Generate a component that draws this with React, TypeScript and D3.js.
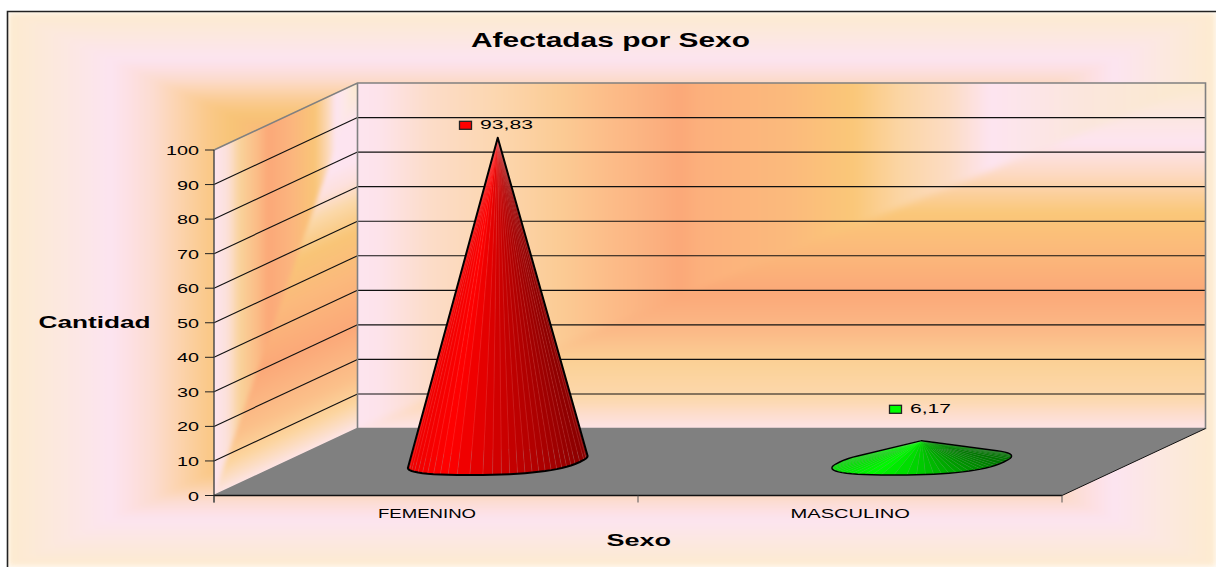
import React from "react";
import * as d3 from "d3";

const categories = ["FEMENINO", "MASCULINO"];
const seriesValues = [93.83, 6.17];
const valueLabels = ["93,83", "6,17"];
const yTicks = [0, 10, 20, 30, 40, 50, 60, 70, 80, 90, 100];
const shadeRed = ["#ee0000", "#ff0000", "#cc0000", "#a80000", "#880000"];
const shadeGreen = ["#00e000", "#00fa00", "#00c400", "#009400", "#007000"];
const keyColors = ["#ff0000", "#00ff00"];

type Stop = [number, string];
const outerStops: Stop[] = [
  [0, "#fdebcf"], [0.09, "#fce8e0"], [0.17, "#fce4f0"], [0.2, "#fde0e4"], [0.24, "#fcdcd0"],
  [0.28, "#fcd4b0"], [0.33, "#fac98a"], [0.37, "#f8c477"], [0.5, "#fbaa7a"], [1, "#fbaa7a"],
];
const backXStops: Stop[] = [
  [358, "#fde4ef"], [380, "#fde3ea"], [430, "#fcdcc8"], [500, "#fcd6ae"], [560, "#fbcb94"], [610, "#fcbc88"],
  [655, "#fbb07f"], [680, "#fba878"], [700, "#fcb07c"], [790, "#fbba7c"], [853, "#fac778"], [900, "#fbd5a4"],
  [950, "#fcdcc4"], [990, "#fde4f0"], [1080, "#fbe6dd"], [1205, "#fbeacd"],
];
const backYStops: Stop[] = [
  [83, "#fbeacd"], [143, "#fde4f0"], [175, "#fdd9c0"], [195, "#fbcf9a"], [213, "#fac778"], [250, "#fbb97a"],
  [293, "#fba878"], [330, "#fbb886"], [363, "#fbd196"], [400, "#fcd8ae"], [412, "#fddcc8"], [428, "#fde3e6"],
];
const sideXStops: Stop[] = [
  [214, "#fde4ef"], [228, "#fce0d8"], [240, "#f9d29a"], [258, "#fbbb85"], [268, "#fba878"], [290, "#fbb47e"],
  [315, "#f9c577"], [330, "#fcdcc4"], [335, "#fde4f0"], [345, "#fde8e8"], [357, "#fbeacd"],
];
const sideVStops: Stop[] = [
  [0, "#fde4e6"], [0.04, "#fcdcc0"], [0.08, "#fcd49c"], [0.15, "#fbc08a"], [0.3, "#fba878"], [0.45, "#fbb97c"],
  [0.57, "#f9c577"], [0.66, "#fbd8a8"], [0.72, "#fde0dc"], [0.78, "#fde4f0"], [0.89, "#fde4f0"], [1, "#fbeacd"],
];

const W = 1216, H = 567;
const frame = { l: 8, t: 12, r: 1216, b: 567, cx: 612, cy: 290 };
const plot = { x0: 214, x1: 1062, y0: 495.5, y1: 150, dx: 143.5, dy: -67 };
const coneA = 82, coneB = 13, coneP = 0.8, facets = 64;
const font = "'Liberation Sans', Arial, sans-serif";

const y = d3.scaleLinear().domain([0, 100]).range([plot.y0, plot.y1]);
const x = d3.scaleBand().domain(categories).range([plot.x0, plot.x1]);
const bx = plot.x0 + plot.dx, bx1 = plot.x1 + plot.dx;
const by = (v: number) => y(v) + plot.dy;

const Grad = ({ id, stops, x1, y1, x2, y2, abs }: any) => {
  const len = abs ? d3.scaleLinear().domain([stops[0][0], stops[stops.length - 1][0]]).range([0, 1]) : (d: number) => d;
  return (
    <linearGradient id={id} gradientUnits="userSpaceOnUse" x1={x1} y1={y1} x2={x2} y2={y2}>
      {stops.map(([o, c]: Stop, i: number) => <stop key={i} offset={len(o)} stopColor={c} />)}
    </linearGradient>
  );
};

const pts = (a: number[][]) => a.map((p) => p.join(",")).join(" ");

const Txt = ({ x: tx, y: ty, len, size, bold, children }: any) => (
  <text x={tx} y={ty} fontFamily={font} fontSize={size} fontWeight={bold ? 700 : 400} fill="#000"
    textLength={len} lengthAdjust="spacingAndGlyphs">{children}</text>
);

const spow = (v: number) => Math.sign(v) * Math.pow(Math.abs(v), coneP);

function Cone({ i }: { i: number }) {
  const cx = (x(categories[i]) as number) + x.bandwidth() / 2 + plot.dx / 2;
  const cy = plot.y0 + plot.dy / 2;
  const k = plot.dx / -plot.dy;
  const apex: [number, number] = [cx, cy - (y(0) - y(seriesValues[i]))];
  const range = i === 0 ? shadeRed : shadeGreen;
  const seam = i === 0 ? "rgba(255,170,170,0.22)" : "rgba(170,255,170,0.12)";
  const shade = d3.scaleLinear<string>().domain([-90, -50, 5, 50, 90]).range(range);
  const base = d3.range(facets + 1).map((j) => {
    const t = (j / facets) * 2 * Math.PI;
    const c = spow(Math.cos(t)), s = spow(Math.sin(t));
    return [cx + coneA * c + k * coneB * s, cy - coneB * s, s];
  });
  const faces = d3.range(facets).map((j) => ({ a: base[j], b: base[j + 1], d: base[j][2] + base[j + 1][2] }));
  faces.sort((p, q) => q.d - p.d);
  const hull = d3.polygonHull([...base.map((p) => [p[0], p[1]] as [number, number]), apex]) as [number, number][];
  return (
    <g>
      {faces.map((f, j) => (
        <polygon key={j} points={pts([apex, [f.a[0], f.a[1]], [f.b[0], f.b[1]]])}
          fill={shade((f.a[0] + f.b[0]) / 2 - cx)} stroke={seam} strokeWidth={0.5} />
      ))}
      <polygon points={pts(hull)} fill="none" stroke="#000" strokeWidth={i === 0 ? 2 : 1.4} strokeLinejoin="round" />
    </g>
  );
}

const labelPos = [{ key: 459.5, text: 480, base: 129.3, len: 53 }, { key: 889.5, text: 910, base: 413.3, len: 41 }];

export default function App() {
  const f = frame;
  const nl = Math.hypot(plot.dx, plot.dy);
  const nx = -plot.dy / nl, ny = plot.dx / nl;
  const span = (y(0) - y(100)) * ny;
  const p0 = [bx, by(0)];
  const p1 = [bx - nx * span, by(0) - ny * span];
  const sideWall = [[plot.x0, y(100)], [bx, by(100)], [bx, by(0)], [plot.x0, y(0)]];
  const backWall = [[bx, by(100)], [bx1, by(100)], [bx1, by(0)], [bx, by(0)]];
  return (
    <svg width={W} height={H} viewBox={`0 0 ${W} ${H}`} style={{ position: "absolute", left: 0, top: 0, display: "block" }}>
      <defs>
        <Grad id="oL" stops={outerStops} x1={f.l} y1={0} x2={f.cx} y2={0} />
        <Grad id="oR" stops={outerStops} x1={f.r} y1={0} x2={f.cx} y2={0} />
        <Grad id="oT" stops={outerStops} x1={0} y1={f.t} x2={0} y2={f.cy} />
        <Grad id="oB" stops={outerStops} x1={0} y1={f.b} x2={0} y2={f.cy} />
        <Grad id="bX" abs stops={backXStops} x1={358} y1={0} x2={1205} y2={0} />
        <Grad id="bY" abs stops={backYStops} x1={0} y1={83} x2={0} y2={428} />
        <Grad id="sX" abs stops={sideXStops} x1={214} y1={0} x2={357} y2={0} />
        <Grad id="sV" stops={sideVStops} x1={p0[0]} y1={p0[1]} x2={p1[0]} y2={p1[1]} />
        <clipPath id="cS"><polygon points={pts(sideWall)} /></clipPath>
        <clipPath id="cB"><polygon points={pts(backWall)} /></clipPath>
        <filter id="soft" x="-5%" y="-5%" width="110%" height="110%" colorInterpolationFilters="sRGB">
          <feGaussianBlur stdDeviation="3.5" />
        </filter>
        <filter id="softS" x="-5%" y="-5%" width="110%" height="110%" colorInterpolationFilters="sRGB">
          <feGaussianBlur stdDeviation="2" />
        </filter>
        <filter id="softO" x="-2%" y="-2%" width="104%" height="104%" colorInterpolationFilters="sRGB">
          <feGaussianBlur stdDeviation="3" />
        </filter>
      </defs>
      <rect width={W} height={H} fill="#fff" />
      {/* chart area: nested rectangular gradient */}
      <clipPath id="cO"><rect x={f.l} y={f.t} width={f.r - f.l} height={f.b - f.t} /></clipPath>
      <g clipPath="url(#cO)">
        <g filter="url(#softO)" shapeRendering="crispEdges">
          <rect x={f.l} y={f.t} width={f.r - f.l} height={f.b - f.t} fill="url(#oT)" />
          <polygon points={pts([[f.l, f.b], [f.r, f.b], [f.cx, f.cy]])} fill="url(#oB)" />
          <polygon points={pts([[f.l, f.t], [f.l, f.b], [f.cx, f.cy]])} fill="url(#oL)" />
          <polygon points={pts([[f.r, f.t], [f.r, f.b], [f.cx, f.cy]])} fill="url(#oR)" />
        </g>
      </g>
      <path d={`M${f.l - 0.5},${H} V${f.t - 0.5} H${W}`} fill="none" stroke="#222" strokeWidth={1.6} />

      {/* side wall */}
      <g clipPath="url(#cS)">
        <g filter="url(#softS)" shapeRendering="crispEdges">
          <rect x={plot.x0 - 20} y={by(100) - 20} width={bx - plot.x0 + 40} height={y(0) - by(100) + 40} fill="url(#sV)" />
          <polygon points={pts([[plot.x0 - 20, by(100) - 20 - 40], [bx + 20, by(100) - 60], [bx, by(100)], [plot.x0, y(0)], [plot.x0 - 20, y(0) + 20]])} fill="url(#sX)" />
        </g>
      </g>
      {/* back wall */}
      <g clipPath="url(#cB)">
        <g filter="url(#soft)" shapeRendering="crispEdges">
          <rect x={bx - 20} y={by(100) - 20} width={bx1 - bx + 40} height={by(0) - by(100) + 40} fill="url(#bY)" />
          <polygon points={pts([[bx - 20, by(100) - 20], [bx1 + 20, by(100) - 20], [bx1, by(100)], [bx, by(0)], [bx - 20, by(0) + 20]])} fill="url(#bX)" />
        </g>
      </g>
      {/* floor */}
      <polygon points={pts([[plot.x0, y(0)], [bx, by(0)], [bx1, by(0)], [plot.x1, y(0)]])} fill="#808080" />

      {/* grid */}
      {yTicks.filter((t) => t > 0 && t < 100).map((t) => (
        <g key={t} stroke="#111" strokeWidth={1.15}>
          <line x1={plot.x0} y1={y(t)} x2={bx} y2={by(t)} />
          <line x1={bx} y1={by(t)} x2={bx1} y2={by(t)} />
        </g>
      ))}
      {/* wall outlines */}
      <path d={`M${plot.x0},${y(100)} L${bx},${by(100)} H${bx1} V${by(0)} H${bx} V${by(100)} M${bx},${by(0)} L${plot.x0},${y(0)}`}
        fill="none" stroke="#808080" strokeWidth={1.6} />
      <line x1={plot.x1} y1={y(0)} x2={bx1} y2={by(0)} stroke="#111" strokeWidth={1} />

      {/* axes */}
      <line x1={plot.x0} y1={y(100)} x2={plot.x0} y2={y(0) + 7} stroke="#444" strokeWidth={1.4} />
      <line x1={plot.x0} y1={y(0)} x2={plot.x1} y2={y(0)} stroke="#111" strokeWidth={1.6} />
      {[plot.x0, (x(categories[1]) as number), plot.x1].map((tx) => (
        <line key={tx} x1={tx} y1={y(0)} x2={tx} y2={y(0) + 7} stroke="#555" strokeWidth={1} />
      ))}
      {yTicks.map((t) => {
        const s = String(t);
        return (
          <g key={t}>
            <line x1={205} y1={y(t)} x2={plot.x0} y2={y(t)} stroke="#222" strokeWidth={1} />
            <Txt x={199 - s.length * 11} y={y(t) + 5} len={s.length * 11} size={13.5}>{s}</Txt>
          </g>
        );
      })}

      {/* cones */}
      {seriesValues.map((_, i) => <Cone key={i} i={i} />)}

      {/* data labels */}
      {valueLabels.map((l, i) => (
        <g key={l}>
          <rect x={labelPos[i].key} y={labelPos[i].base - 8} width={12} height={8} fill={keyColors[i]} stroke="#222" strokeWidth={1.3} />
          <Txt x={labelPos[i].text} y={labelPos[i].base} len={labelPos[i].len} size={13.5}>{l}</Txt>
        </g>
      ))}

      {/* category and axis labels */}
      <Txt x={378} y={518} len={98} size={13.5}>{categories[0]}</Txt>
      <Txt x={790.5} y={518} len={119.5} size={13.5}>{categories[1]}</Txt>
      <Txt x={471} y={46.5} len={279} size={20} bold>Afectadas por Sexo</Txt>
      <Txt x={38.5} y={328} len={112} size={16} bold>Cantidad</Txt>
      <Txt x={606.5} y={546} len={64.5} size={16} bold>Sexo</Txt>
    </svg>
  );
}
